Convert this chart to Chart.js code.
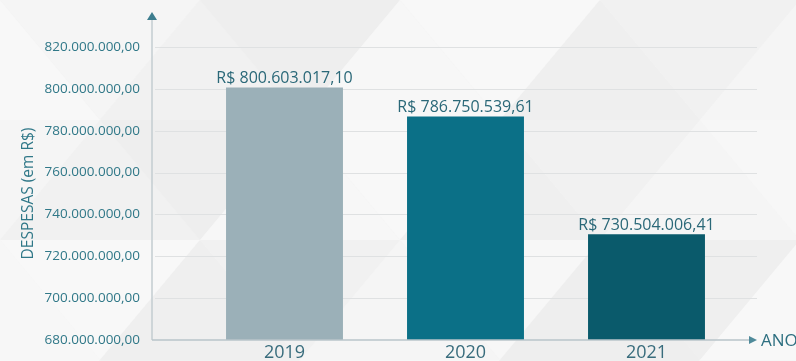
<!DOCTYPE html>
<html lang="pt-BR">
<head>
<meta charset="utf-8">
<title>Despesas por ano</title>
<script src="https://cdn.jsdelivr.net/npm/chart.js@4/dist/chart.umd.min.js"></script>
<style>
  html, body { margin: 0; padding: 0; background: #f2f2f2; }
  #wrap { width: 796px; height: 361px; position: relative; }
</style>
</head>
<body>
<div id="wrap"><canvas id="c" width="796" height="361"></canvas></div>
<script>
// Despesas anuais (em R$)
const anos = ['2019', '2020', '2021'];
const despesas = [800603017.10, 786750539.61, 730504006.41];
const coresBarras = ['#9bb0b8', '#0b7087', '#0a5a6b'];
const ticksY = [680000000, 700000000, 720000000, 740000000, 760000000, 780000000, 800000000, 820000000];
const tituloY = 'DESPESAS (em R$)';
const tituloX = 'ANO';

const FONTE = '"Open Sans", "Noto Sans", sans-serif';
const TEAL = '#307888';

// número no formato brasileiro: 1.234.567,89
function formatoBR(v) {
  const neg = v < 0;
  const [int, dec] = Math.abs(v).toFixed(2).split('.');
  const grupos = int.replace(/\B(?=(\d{3})+(?!\d))/g, '.');
  return (neg ? '-' : '') + grupos + ',' + dec;
}

// fundo claro com padrão suave de triângulos
const fundo = {
  id: 'fundo',
  beforeDraw(chart) {
    const { ctx, width, height } = chart;
    ctx.save();
    ctx.fillStyle = '#f3f3f3';
    ctx.fillRect(0, 0, width, height);
    const W = 200, H = 120;
    const tons = ['#f7f7f7', '#efefef', '#f5f5f5', '#eeeeee', '#f8f8f8', '#f1f1f1'];
    let k = 0;
    for (let r = -1; r * H < height + H; r++) {
      const shift = (r % 2 === 0) ? 0 : W / 2;
      for (let c = -1; c * W < width + W; c++) {
        const x0 = c * W + shift, y0 = r * H;
        ctx.fillStyle = tons[(k++) % tons.length];
        ctx.beginPath();
        ctx.moveTo(x0, y0); ctx.lineTo(x0 + W, y0); ctx.lineTo(x0 + W / 2, y0 + H);
        ctx.closePath(); ctx.fill();
        ctx.fillStyle = tons[(k + 2) % tons.length];
        ctx.beginPath();
        ctx.moveTo(x0 + W / 2, y0 + H); ctx.lineTo(x0 + W, y0); ctx.lineTo(x0 + 1.5 * W, y0 + H);
        ctx.closePath(); ctx.fill();
      }
      k += 1;
    }
    ctx.restore();
  }
};

// linhas de grade e eixos com setas
const eixos = {
  id: 'eixos',
  beforeDatasetsDraw(chart) {
    const { ctx } = chart;
    const y = chart.scales.y;
    const xEixo = 152, xFim = 757;
    const yBase = y.getPixelForValue(y.min);
    ctx.save();
    ctx.strokeStyle = '#dfe1e2';
    ctx.lineWidth = 1;
    y.ticks.forEach(t => {
      if (t.value === y.min) return;
      const py = Math.round(y.getPixelForValue(t.value)) + 0.5;
      ctx.beginPath(); ctx.moveTo(xEixo + 3, py); ctx.lineTo(xFim, py); ctx.stroke();
    });
    // eixo vertical
    ctx.strokeStyle = '#c3cdd1';
    ctx.lineWidth = 1.5;
    ctx.beginPath(); ctx.moveTo(xEixo, 19); ctx.lineTo(xEixo, yBase); ctx.stroke();
    ctx.fillStyle = '#3d7d8e';
    ctx.beginPath(); ctx.moveTo(xEixo, 12); ctx.lineTo(xEixo - 5, 20); ctx.lineTo(xEixo + 5, 20); ctx.closePath(); ctx.fill();
    ctx.restore();
  },
  afterDatasetsDraw(chart) {
    const { ctx } = chart;
    const y = chart.scales.y;
    const xEixo = 152;
    const yBase = y.getPixelForValue(y.min);
    ctx.save();
    // eixo horizontal
    ctx.strokeStyle = '#b8c5ca';
    ctx.lineWidth = 1.5;
    ctx.beginPath(); ctx.moveTo(xEixo, yBase); ctx.lineTo(750, yBase); ctx.stroke();
    ctx.fillStyle = '#4f8a9a';
    ctx.beginPath(); ctx.moveTo(757, yBase); ctx.lineTo(749, yBase - 4); ctx.lineTo(749, yBase + 4); ctx.closePath(); ctx.fill();
    ctx.fillStyle = '#2d6f80';
    ctx.font = '17px ' + FONTE;
    ctx.textAlign = 'left';
    ctx.textBaseline = 'middle';
    ctx.fillText(tituloX, 761, yBase + 1);
    ctx.restore();
  }
};

// rótulos de valor acima das barras
const rotulos = {
  id: 'rotulos',
  afterDatasetsDraw(chart) {
    const { ctx } = chart;
    const meta = chart.getDatasetMeta(0);
    ctx.save();
    ctx.fillStyle = '#2a6878';
    ctx.font = '16px ' + FONTE;
    ctx.textAlign = 'center';
    ctx.textBaseline = 'bottom';
    meta.data.forEach((bar, i) => {
      const v = chart.data.datasets[0].data[i];
      ctx.fillText('R$ ' + formatoBR(v), bar.x, bar.y - 1);
    });
    ctx.restore();
  }
};

new Chart(document.getElementById('c'), {
  type: 'bar',
  data: {
    labels: anos,
    datasets: [{
      data: despesas,
      backgroundColor: coresBarras,
      borderWidth: 0,
      categoryPercentage: 1,
      barPercentage: 0.646
    }]
  },
  options: {
    responsive: false,
    animation: false,
    devicePixelRatio: 1,
    layout: { padding: { top: 47, right: 59, left: 0, bottom: 0 } },
    plugins: { legend: { display: false }, tooltip: { enabled: false } },
    scales: {
      x: {
        grid: { display: false, drawTicks: false },
        border: { display: false },
        ticks: { color: '#386c7c', font: { family: FONTE, size: 18 }, padding: 2 },
        afterFit(s) { s.height = 21; }
      },
      y: {
        min: ticksY[0],
        max: ticksY[ticksY.length - 1],
        afterBuildTicks(s) { s.ticks = ticksY.map(v => ({ value: v })); },
        grid: { display: false, drawTicks: false },
        border: { display: false },
        ticks: {
          color: TEAL,
          font: { family: FONTE, size: 13.5 },
          padding: 54,
          callback: v => formatoBR(v)
        },
        title: {
          display: true,
          text: tituloY,
          color: TEAL,
          font: { family: FONTE, size: 15.5 },
          padding: { top: 19, bottom: 0 }
        },
        afterFit(s) {
          s.width = 194;
          // o espaçamento lateral dos rótulos não deve reservar espaço vertical
          s.paddingTop = 8;
          s.paddingBottom = 8;
        }
      }
    }
  },
  plugins: [fundo, eixos, rotulos]
});
</script>
</body>
</html>
